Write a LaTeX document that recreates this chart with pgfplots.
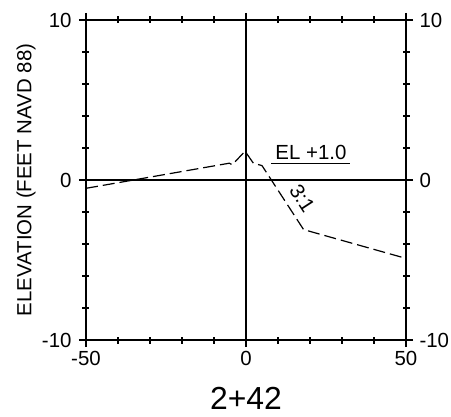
\documentclass[border=0pt]{standalone}
\usepackage{fontspec}
\setmainfont{Liberation Sans}
\usepackage{pgfplots}
\pgfplotsset{compat=1.18}
\begin{document}
\begin{tikzpicture}
\begin{axis}[
  name=ax,
  scale only axis,
  width=320bp, height=320bp,
  xmin=-50, xmax=50, ymin=-10, ymax=10,
  xtick={-50,0,50}, ytick={-10,0,10},
  minor xtick={-40,-30,-20,-10,10,20,30,40},
  minor ytick={-8,-6,-4,-2,2,4,6,8},
  tick align=center,
  major tick length=14bp,
  minor tick length=7bp,
  every tick/.style={black, line width=1.1bp},
  axis line style={line width=1.2bp},
  /pgf/number format/assume math mode=true,
  ticklabel style={font=\fontsize{20.5}{22}\selectfont},
  xticklabel style={yshift=-1bp},
  yticklabel style={xshift=-4bp},
  xlabel={2+42},
  xlabel style={font=\fontsize{32}{36}\selectfont, at={(axis description cs:0.5,0)}, anchor=center, yshift=-58bp},
  ylabel={ELEVATION (FEET NAVD 88)},
  ylabel style={font=\fontsize{20.5}{22}\selectfont, at={(axis description cs:0,0.5)}, anchor=center, yshift=60bp},
  clip=false,
]
\draw[line width=1.2bp] (axis cs:0,-10) -- (axis cs:0,10);
\draw[line width=1.2bp] (axis cs:-50,0) -- (axis cs:50,0);
\addplot[black, line width=1.2bp, dash pattern=on 12bp off 5bp] coordinates {
  (-50,-0.52) (-5.2,1.05) (-4.3,0.95) (-0.3,1.8) (2.3,1.05) (5,0.9) (18,-3.1) (50,-4.9)
};
\node[anchor=base, font=\fontsize{20.5}{22}\selectfont, inner sep=0bp] at (axis cs:20.3,1.28) {EL +1.0};
\draw[line width=1.2bp] (axis cs:7.9,1.04) -- (axis cs:32.5,1.04);
\node[rotate=-57, font=\fontsize{20.5}{22}\selectfont, inner sep=0bp] at (axis cs:17.6,-1.15) {3:1};
\node[anchor=west, font=\fontsize{20.5}{22}\selectfont] at (axis cs:50,10) [xshift=10bp] {10};
\node[anchor=west, font=\fontsize{20.5}{22}\selectfont] at (axis cs:50,0) [xshift=10bp] {0};
\node[anchor=west, font=\fontsize{20.5}{22}\selectfont] at (axis cs:50,-10) [xshift=10bp] {-10};
\end{axis}
\pgfresetboundingbox
\path[use as bounding box] ([shift={(-86bp,-77bp)}]ax.south west) rectangle ([shift={(45bp,20bp)}]ax.north east);
\end{tikzpicture}
\end{document}
